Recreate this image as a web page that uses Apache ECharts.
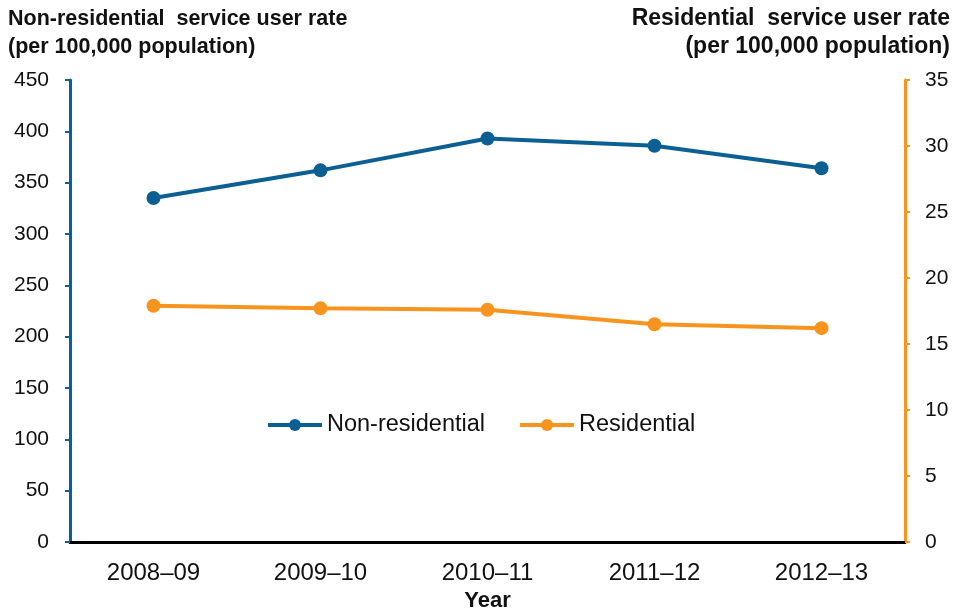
<!DOCTYPE html>
<html>
<head>
<meta charset="utf-8">
<script src="https://cdn.jsdelivr.net/npm/echarts@6/dist/echarts.min.js"></script>
<style>html,body{margin:0;padding:0;background:#fff}#c{width:958px;height:612px}</style>
</head>
<body>
<div id="c"></div>
<script>
const categories = ['2008–09', '2009–10', '2010–11', '2011–12', '2012–13'];
const nonResidential = [335, 362, 393, 386, 364];
const residential = [17.9, 17.7, 17.6, 16.5, 16.2];
const leftTitle = 'Non-residential  service user rate\n(per 100,000 population)';
const rightTitle = 'Residential  service user rate\n(per 100,000 population)';
const blue = '#0B5F93';
const orange = '#F7941E';
const font = 'Liberation Sans, Arial, sans-serif';

const chart = echarts.init(document.getElementById('c'));
chart.setOption({
  animation: false,
  textStyle: { fontFamily: font },
  graphic: [
    { type: 'text', left: 8, top: 5,
      style: { text: leftTitle, font: 'bold 21.5px ' + font, fill: '#111', lineHeight: 28, textAlign: 'left' } },
    { type: 'text', right: 8, top: 5,
      style: { text: rightTitle, font: 'bold 23px ' + font, fill: '#111', lineHeight: 28, textAlign: 'right' } }
  ],
  grid: { left: 70, right: 53, top: 80, bottom: 70, containLabel: false, outerBoundsMode: 'none' },
  legend: {
    left: 261, top: 408, itemWidth: 54, itemHeight: 15, itemGap: 33,
    lineStyle: { width: 4 },
    textStyle: { fontSize: 23.5, color: '#111', fontFamily: font },
    data: ['Non-residential', 'Residential']
  },
  xAxis: {
    type: 'category', data: categories, boundaryGap: true,
    name: 'Year', nameLocation: 'middle', nameGap: 47,
    nameTextStyle: { fontSize: 22, fontWeight: 'bold', color: '#111', fontFamily: font },
    axisLine: { lineStyle: { color: '#000', width: 3 } },
    axisTick: { alignWithLabel: true, length: 4, lineStyle: { color: '#000', width: 2 } },
    axisLabel: { fontSize: 24, color: '#111', margin: 19, fontFamily: font },
    splitLine: { show: false }
  },
  yAxis: [
    { type: 'value', min: 0, max: 450, interval: 50, position: 'left',
      axisLine: { show: true, lineStyle: { color: blue, width: 3 } },
      axisTick: { show: true, length: 5, lineStyle: { color: blue, width: 2 } },
      axisLabel: { fontSize: 21, color: '#111', margin: 21, fontFamily: font },
      splitLine: { show: false } },
    { type: 'value', min: 0, max: 35, interval: 5, position: 'right',
      axisLine: { show: true, lineStyle: { color: orange, width: 3 } },
      axisTick: { show: true, length: 5, lineStyle: { color: orange, width: 2 } },
      axisLabel: { fontSize: 21, color: '#111', margin: 20, fontFamily: font },
      splitLine: { show: false } }
  ],
  series: [
    { name: 'Non-residential', type: 'line', yAxisIndex: 0, data: nonResidential,
      symbol: 'circle', symbolSize: 14, color: blue,
      lineStyle: { color: blue, width: 4 }, itemStyle: { color: blue } },
    { name: 'Residential', type: 'line', yAxisIndex: 1, data: residential,
      symbol: 'circle', symbolSize: 14, color: orange,
      lineStyle: { color: orange, width: 4 }, itemStyle: { color: orange } }
  ]
});
</script>
</body>
</html>
